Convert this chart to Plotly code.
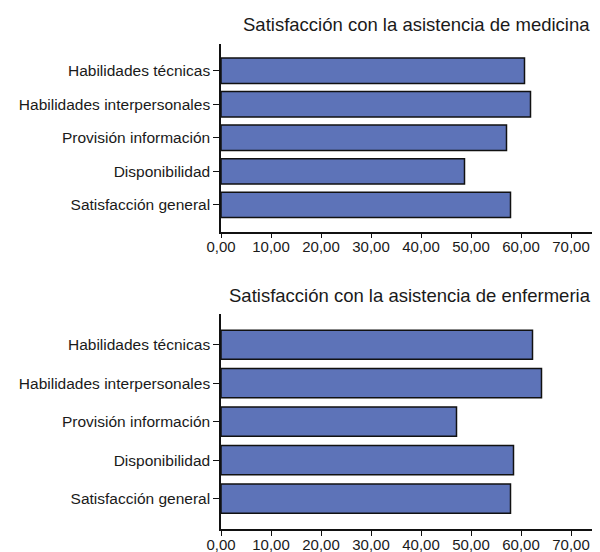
import plotly.graph_objects as go

categories = ["Habilidades técnicas", "Habilidades interpersonales", "Provisión información",
              "Disponibilidad", "Satisfacción general"]
medicina = [60.7, 61.9, 57.1, 48.7, 57.9]
enfermeria = [62.3, 64.1, 47.1, 58.5, 57.9]
x_ticks = [0, 10, 20, 30, 40, 50, 60, 70]
titles = ["Satisfacción con la asistencia de medicina",
          "Satisfacción con la asistencia de enfermeria"]

BAR = "#5d73b8"
FONT = "Liberation Sans, Arial, Helvetica, sans-serif"
TXT = "#1a1a1a"
W, H = 592, 544

fig = go.Figure()
for vals, xa, ya in [(medicina, "x", "y"), (enfermeria, "x2", "y2")]:
    fig.add_trace(go.Bar(
        x=vals, y=categories, orientation="h", xaxis=xa, yaxis=ya,
        width=0.76, marker=dict(color=BAR, line=dict(color="#111111", width=1.5)),
        showlegend=False, hoverinfo="x+y"))

xcommon = dict(range=[0, 75.8], tickvals=x_ticks, tickformat=".2f", showgrid=False,
               zeroline=False, showline=True, linecolor="#111111", linewidth=1.5,
               ticks="outside", ticklen=5, tickwidth=1.2, tickcolor="#111111",
               automargin=False, ticklabelstandoff=-4,
               tickfont=dict(family=FONT, size=15, color=TXT),
               domain=[(221 - 8) / W, 1.0])
ycommon = dict(type="category", categoryorder="array", categoryarray=categories[::-1],
               range=[-0.8, 4.8], showgrid=False, zeroline=False, showline=True,
               linecolor="#111111", linewidth=1.5, ticks="outside", ticklen=6,
               tickwidth=1.2, tickcolor="#111111", automargin=False,
               tickfont=dict(family=FONT, size=15.5, color=TXT))

fig.update_layout(
    width=W, height=H, margin=dict(l=0, r=0, t=0, b=0, pad=0), autosize=False,
    paper_bgcolor="white", plot_bgcolor="white", separators=", ",
    template="none",
    xaxis=dict(**xcommon, anchor="y"),
    yaxis=dict(**ycommon, domain=[1 - (231.7 - 8) / H, 1 - (44 - 8) / H], anchor="x"),
    xaxis2=dict(**xcommon, anchor="y2"),
    yaxis2=dict(**ycommon, domain=[1 - (529.3 - 8) / H, 1 - (314 - 8) / H], anchor="x2"),
    annotations=[
        dict(text=titles[0], x=(416 - 8) / W, y=1 - (24 - 8) / H, xref="paper", yref="paper",
             showarrow=False, xanchor="center", yanchor="middle",
             font=dict(family=FONT, size=18.5, color=TXT)),
        dict(text=titles[1], x=(410 - 8) / W, y=1 - (295 - 8) / H, xref="paper", yref="paper",
             showarrow=False, xanchor="center", yanchor="middle",
             font=dict(family=FONT, size=18.5, color=TXT)),
    ],
)

fig.write_html("out.html")
